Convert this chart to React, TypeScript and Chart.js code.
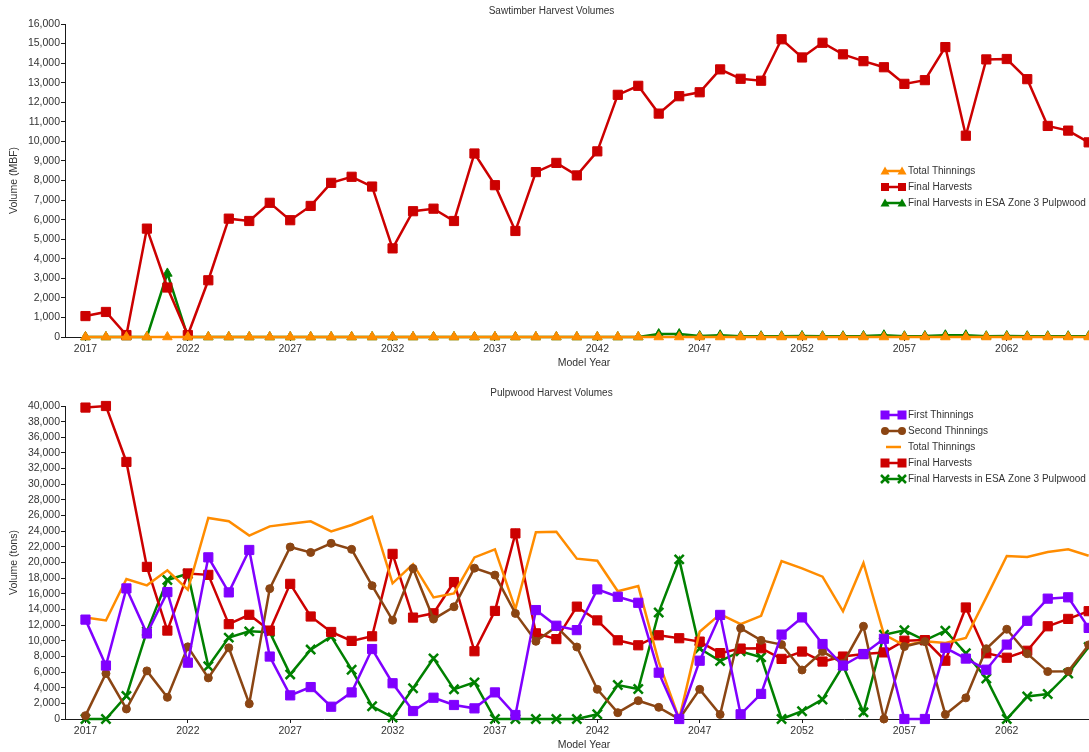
import React, { useEffect, useRef } from 'react';
import { Chart, registerables } from 'chart.js';

Chart.register(...registerables);

// ---------- data ----------
const years = [
  2017, 2018, 2019, 2020, 2021, 2022, 2023, 2024, 2025, 2026,
  2027, 2028, 2029, 2030, 2031, 2032, 2033, 2034, 2035, 2036,
  2037, 2038, 2039, 2040, 2041, 2042, 2043, 2044, 2045, 2046,
  2047, 2048, 2049, 2050, 2051, 2052, 2053, 2054, 2055, 2056,
  2057, 2058, 2059, 2060, 2061, 2062, 2063, 2064, 2065, 2066,
];
const xTickYears = [2017, 2022, 2027, 2032, 2037, 2042, 2047, 2052, 2057, 2062];

// Sawtimber (MBF)
const sawTotalThinnings = [
  0, 0, 0, 0, 0, 0, 0, 0, 0, 0,
  0, 0, 0, 0, 0, 0, 0, 0, 0, 0,
  0, 0, 0, 0, 0, 0, 0, 0, 0, 0,
  0, 0, 0, 0, 0, 0, 0, 0, 0, 0,
  0, 0, 0, 0, 0, 0, 0, 0, 0, 0,
];
const sawFinalHarvests = [
  1070, 1280, 100, 5540, 2530, 100, 2900, 6050, 5930, 6860,
  5970, 6700, 7880, 8190, 7690, 4530, 6430, 6560, 5930, 9380,
  7760, 5420, 8430, 8900, 8260, 9490, 12380, 12840, 11420, 12310,
  12510, 13680, 13200, 13100, 15220, 14290, 15040, 14450, 14100, 13790,
  12940, 13130, 14820, 10290, 14190, 14210, 13180, 10790, 10550, 9950,
];
const sawEsaZone3 = [
  0, 0, 0, 0, 3250, 0, 0, 0, 0, 0,
  0, 0, 0, 0, 0, 0, 0, 0, 0, 0,
  0, 0, 0, 0, 0, 0, 0, 0, 150, 150,
  50, 90, 40, 40, 40, 50, 40, 40, 50, 90,
  40, 50, 90, 90, 40, 50, 40, 40, 40, 40,
];

// Pulpwood (tons)
const pulpFirstThinnings = [
  12700, 6830, 16690, 10930, 16220, 7200, 20660, 16180, 21600, 7980,
  3020, 4080, 1570, 3400, 8940, 4570, 1020, 2720, 1790, 1360,
  3400, 510, 13920, 11920, 11360, 16560, 15620, 14850, 5920, 0,
  7450, 13300, 600, 3210, 10790, 12980, 9580, 6830, 8300, 10250,
  0, 0, 9100, 7720, 6300, 9510, 12550, 15380, 15550, 11640,
];
const pulpSecondThinnings = [
  430, 5810, 1280, 6150, 2770, 9220, 5250, 9100, 1950, 16660,
  21980, 21280, 22450, 21680, 17040, 12620, 19240, 12770, 14340, 19280,
  18390, 13490, 9930, 11800, 9200, 3790, 810, 2340, 1490, 0,
  3790, 580, 11600, 10050, 9510, 6260, 8620, 7130, 11850, 0,
  9260, 9890, 580, 2700, 8980, 11470, 8340, 6060, 6100, 9470,
];
const pulpTotalThinnings = [
  12980, 12590, 17890, 17080, 19000, 16520, 25700, 25270, 23440, 24620,
  24960, 25260, 23980, 24790, 25850, 17340, 19790, 15530, 16040, 20650,
  21670, 14050, 23880, 23920, 20490, 20220, 16320, 16980, 7300, 0,
  11150, 13400, 12110, 13190, 20190, 19250, 18190, 13760, 19940, 10800,
  9400, 9950, 9720, 10350, 15550, 20830, 20700, 21340, 21680, 20870,
];
const pulpFinalHarvests = [
  39800, 40000, 32850, 19440, 11300, 18600, 18420, 12120, 13320, 11300,
  17270, 13100, 11120, 9980, 10570, 21100, 12960, 13510, 17500, 8660,
  13810, 23720, 10950, 10210, 14360, 12600, 10060, 9420, 10700, 10320,
  9890, 8420, 9000, 9040, 7680, 8620, 7340, 7980, 8300, 8510,
  10000, 10080, 7450, 14250, 8400, 7830, 8720, 11850, 12790, 13780,
];
const pulpEsaZone3 = [
  0, 0, 2950, 11200, 17760, 18570, 6750, 10400, 11200, 11100,
  5700, 8870, 10550, 6300, 1630, 200, 3920, 7750, 3790, 4680,
  0, 0, 0, 0, 0, 600, 4340, 3830, 13620, 20400,
  9000, 7400, 8660, 7900, 0, 1000, 2500, 6800, 850, 10770,
  11340, 10050, 11280, 8400, 5170, 0, 2870, 3190, 5810, 9200,
];

// ---------- styling ----------
const FONT = "'Liberation Sans', Arial, sans-serif";
const FONT_SIZE = 10.5;
const SMALL_FONT_SIZE = 10;
const TEXT = '#333333';
const AXIS = '#1a1a1a';
const ORANGE = '#FF8C00';
const RED = '#CC0000';
const GREEN = '#008000';
const PURPLE = '#8000FF';
const BROWN = '#8B4513';

// The source chart is wider than the captured window; it is cropped on the right.
const CANVAS_W = 1103;
const X_MAX = 2066.7;

function drawMarker(ctx: CanvasRenderingContext2D, style: string, x: number, y: number, size: number, color: string) {
  ctx.save();
  ctx.fillStyle = color;
  ctx.strokeStyle = color;
  if (style === 'rect') {
    ctx.fillRect(x - size / 2, y - size / 2, size, size);
  } else if (style === 'triangle') {
    const r = size / 2;
    ctx.beginPath();
    ctx.moveTo(x, y - r);
    ctx.lineTo(x + r, y + r * 0.75);
    ctx.lineTo(x - r, y + r * 0.75);
    ctx.closePath();
    ctx.fill();
  } else if (style === 'circle') {
    ctx.beginPath();
    ctx.arc(x, y, size / 2, 0, Math.PI * 2);
    ctx.fill();
  } else if (style === 'crossRot') {
    const r = size / 2;
    ctx.lineWidth = 2.5;
    ctx.beginPath();
    ctx.moveTo(x - r, y - r);
    ctx.lineTo(x + r, y + r);
    ctx.moveTo(x + r, y - r);
    ctx.lineTo(x - r, y + r);
    ctx.stroke();
  }
  ctx.restore();
}

const insideLegend = {
  id: 'insideLegend',
  afterDraw(chart: any, _args: any, opts: any) {
    const items = (opts && opts.items) || [];
    if (!items.length) return;
    const ctx: CanvasRenderingContext2D = chart.ctx;
    ctx.save();
    items.forEach((it: any, i: number) => {
      const y = opts.y + i * opts.rowGap;
      const x1 = opts.x;
      const x2 = opts.x + opts.symbolWidth;
      ctx.strokeStyle = it.color;
      ctx.lineWidth = 2.5;
      ctx.beginPath();
      if (it.pointStyle) {
        ctx.moveTo(x1, y);
        ctx.lineTo(x2, y);
      } else {
        ctx.moveTo(x1 + 1, y);
        ctx.lineTo(x2 - 1, y);
      }
      ctx.stroke();
      if (it.pointStyle) {
        drawMarker(ctx, it.pointStyle, x1, y, it.size, it.color);
        drawMarker(ctx, it.pointStyle, x2, y, it.size, it.color);
      }
      ctx.fillStyle = TEXT;
      ctx.font = `${SMALL_FONT_SIZE}px ${FONT}`;
      ctx.textBaseline = 'middle';
      ctx.textAlign = 'left';
      ctx.fillText(it.label, x2 + opts.textGap, y);
    });
    ctx.restore();
  },
};

function series(values: number[]) {
  return years.map((yr, i) => ({ x: yr, y: values[i] }));
}

function buildOptions(title: string, yTitle: string, yMax: number, yStep: number, legendItems: any[], legendY: number) {
  return {
    responsive: false,
    animation: false as const,
    events: [] as any[],
    layout: { padding: 0, autoPadding: false },
    elements: { line: { tension: 0 } },
    plugins: {
      legend: { display: false },
      tooltip: { enabled: false },
      title: {
        display: true,
        text: title,
        color: TEXT,
        font: { family: FONT, size: SMALL_FONT_SIZE, weight: 'normal' as const },
        padding: { top: 5, bottom: 7 },
      },
      insideLegend: {
        items: legendItems,
        x: 885,
        y: legendY,
        rowGap: 16,
        symbolWidth: 17,
        textGap: 6,
      },
    },
    scales: {
      x: {
        type: 'linear' as const,
        min: 2016,
        max: X_MAX,
        afterBuildTicks: (scale: any) => {
          scale.ticks = xTickYears.map((v) => ({ value: v }));
        },
        afterFit: (scale: any) => {
          scale.height = 33;
        },
        ticks: {
          autoSkip: false,
          maxRotation: 0,
          padding: 2,
          color: TEXT,
          font: { family: FONT, size: FONT_SIZE },
          callback: (v: any) => String(v),
        },
        grid: { display: true, drawOnChartArea: false, drawTicks: true, tickLength: 4, color: AXIS },
        border: { display: true, color: AXIS, width: 1 },
        title: {
          display: true,
          text: 'Model Year',
          color: TEXT,
          font: { family: FONT, size: FONT_SIZE },
          padding: { top: 0, bottom: 1 },
        },
      },
      y: {
        type: 'linear' as const,
        min: 0,
        max: yMax,
        afterFit: (scale: any) => {
          scale.width = 65;
        },
        ticks: {
          stepSize: yStep,
          autoSkip: false,
          padding: 1,
          color: TEXT,
          font: { family: FONT, size: FONT_SIZE },
        },
        grid: { display: true, drawOnChartArea: false, drawTicks: true, tickLength: 4, color: AXIS },
        border: { display: true, color: AXIS, width: 1 },
        title: {
          display: true,
          text: yTitle,
          color: TEXT,
          font: { family: FONT, size: FONT_SIZE },
          padding: { top: 8, bottom: 0 },
        },
      },
    },
  };
}

function lineDs(label: string, values: number[], color: string, pointStyle: any, radius: number, extra: any = {}) {
  return {
    label,
    data: series(values),
    borderColor: color,
    backgroundColor: color,
    borderWidth: 2.5,
    pointStyle,
    pointRadius: radius,
    pointBorderWidth: 1,
    pointBackgroundColor: color,
    pointBorderColor: color,
    clip: false,
    ...extra,
  };
}

export default function App() {
  const topRef = useRef<HTMLCanvasElement | null>(null);
  const botRef = useRef<HTMLCanvasElement | null>(null);

  useEffect(() => {
    const topChart = new Chart(topRef.current as HTMLCanvasElement, {
      type: 'line',
      data: {
        datasets: [
          lineDs('Total Thinnings', sawTotalThinnings, ORANGE, 'triangle', 5.5) as any,
          lineDs('Final Harvests', sawFinalHarvests, RED, 'rect', 6.5) as any,
          lineDs('Final Harvests in ESA Zone 3 Pulpwood', sawEsaZone3, GREEN, 'triangle', 5.5) as any,
        ],
      },
      options: buildOptions('Sawtimber Harvest Volumes', 'Volume (MBF)', 16000, 1000, [
        { label: 'Total Thinnings', color: ORANGE, pointStyle: 'triangle', size: 9 },
        { label: 'Final Harvests', color: RED, pointStyle: 'rect', size: 8 },
        { label: 'Final Harvests in ESA Zone 3 Pulpwood', color: GREEN, pointStyle: 'triangle', size: 9 },
      ], 171) as any,
      plugins: [insideLegend],
    });

    const botChart = new Chart(botRef.current as HTMLCanvasElement, {
      type: 'line',
      data: {
        datasets: [
          lineDs('First Thinnings', pulpFirstThinnings, PURPLE, 'rect', 6.5) as any,
          lineDs('Second Thinnings', pulpSecondThinnings, BROWN, 'circle', 4) as any,
          lineDs('Total Thinnings', pulpTotalThinnings, ORANGE, 'circle', 0) as any,
          lineDs('Final Harvests', pulpFinalHarvests, RED, 'rect', 6.5) as any,
          lineDs('Final Harvests in ESA Zone 3 Pulpwood', pulpEsaZone3, GREEN, 'crossRot', 6.5, { pointBorderWidth: 2.5 }) as any,
        ],
      },
      options: buildOptions('Pulpwood Harvest Volumes', 'Volume (tons)', 40000, 2000, [
        { label: 'First Thinnings', color: PURPLE, pointStyle: 'rect', size: 9 },
        { label: 'Second Thinnings', color: BROWN, pointStyle: 'circle', size: 8 },
        { label: 'Total Thinnings', color: ORANGE, pointStyle: null, size: 0 },
        { label: 'Final Harvests', color: RED, pointStyle: 'rect', size: 9 },
        { label: 'Final Harvests in ESA Zone 3 Pulpwood', color: GREEN, pointStyle: 'crossRot', size: 8 },
      ], 33) as any,
      plugins: [insideLegend],
    });

    return () => {
      topChart.destroy();
      botChart.destroy();
    };
  }, []);

  return (
    <div style={{ position: 'absolute', left: 0, top: 0, width: 1089, height: 752, background: '#ffffff', overflow: 'hidden' }}>
      <div style={{ position: 'absolute', left: 0, top: 0 }}>
        <canvas ref={topRef} width={CANVAS_W} height={370} style={{ display: 'block' }} />
      </div>
      <div style={{ position: 'absolute', left: 0, top: 382 }}>
        <canvas ref={botRef} width={CANVAS_W} height={370} style={{ display: 'block' }} />
      </div>
    </div>
  );
}
